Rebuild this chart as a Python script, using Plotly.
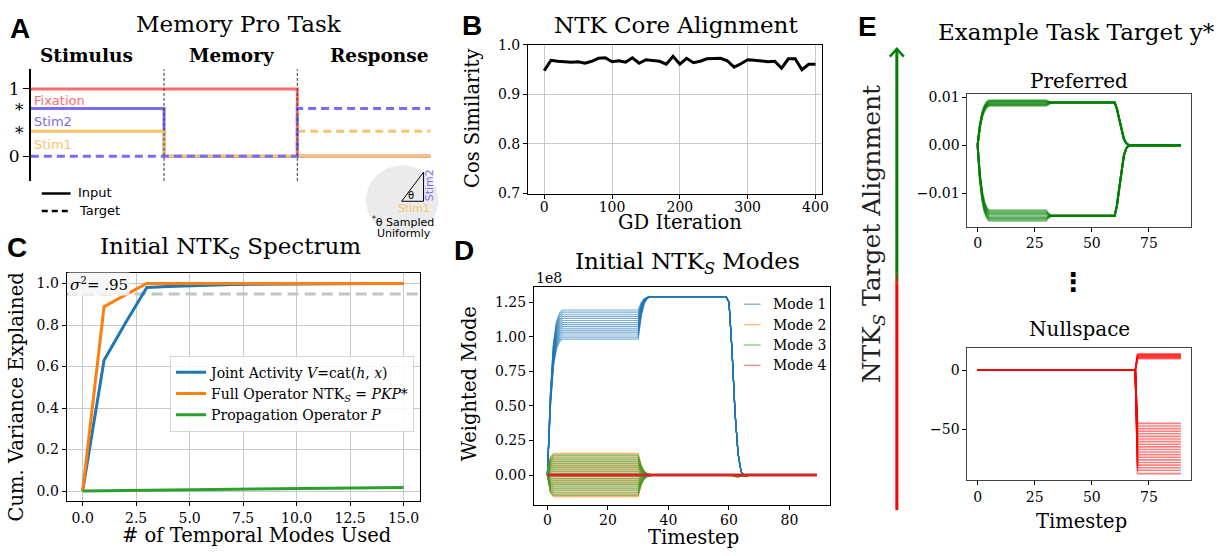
import plotly.graph_objects as go

W, H = 1222, 556
SERIF = "DejaVu Serif"
SANS = "DejaVu Sans"
BOLDSANS = "Liberation Sans"

# ---------------- data ----------------
# Panel A (task schematic), time in phases 0..3
FIX_T = [0, 2, 2, 3]
FIX_V = [1, 1, 0, 0]
STIM_T = [0, 1, 1, 3]
STIM2_V = [0.71, 0.71, 0, 0]
STIM1_V = [0.37, 0.37, 0, 0]
TGT2_T = [0, 2, 2, 3]
TGT2_V = [0, 0, 0.71, 0.71]
TGT1_T = [2, 3]
TGT1_V = [0.37, 0.37]
LEVEL_TICKS = [0, 1]
LEVEL_LABELS = ["0", "1"]

# Panel B
GD_ITER = list(range(0, 401, 10))
COS_SIM = [0.948, 0.969, 0.967, 0.966, 0.965, 0.966, 0.963, 0.967, 0.973, 0.974,
           0.966, 0.968, 0.965, 0.974, 0.963, 0.970, 0.969, 0.967, 0.961, 0.977,
           0.961, 0.973, 0.964, 0.967, 0.972, 0.972, 0.973, 0.968, 0.955, 0.962,
           0.970, 0.969, 0.967, 0.966, 0.967, 0.953, 0.972, 0.972, 0.950, 0.961, 0.961]

# Panel C
N_MODES = list(range(16))
JOINT = [0.0, 0.63, 0.81, 0.981, 0.986, 0.99, 0.993, 0.995, 0.997, 0.998, 0.998, 0.999, 0.999, 1.0, 1.0, 1.0]
FULL = [0.0, 0.888, 0.945, 1.0, 1.0, 1.0, 1.0, 1.0, 1.0, 1.0, 1.0, 1.0, 1.0, 1.0, 1.0, 1.0]
PROP = [0.0, 0.001, 0.002, 0.003, 0.004, 0.005, 0.006, 0.007, 0.008, 0.009, 0.010, 0.011, 0.012, 0.014, 0.015, 0.017]
SIGMA_THRESH = 0.95

# Panel D (values in units of 1e8)
M1_T = [0, 1, 2, 3, 4, 5, 30, 31, 32, 33, 34, 59, 60, 61, 62, 63, 64, 65, 89]
M1_RISE = [0, 0.5, 0.8, 0.93, 0.98, 1.0]
M1_TRANS = [0, 0.55, 0.85, 0.96, 1.0]
M1_DROP = [1.0, 0.97, 0.7, 0.35, 0.12, 0.02, 0.0]
M1_PEAK = 1.29
M1_LEVELS = [0.983, 0.998, 1.013, 1.028, 1.043, 1.058, 1.073, 1.088, 1.103, 1.118,
             1.133, 1.148, 1.163, 1.178, 1.194]
M23_T = [0, 1, 2, 30, 31, 32, 33, 34, 35, 61, 62, 63, 64, 65, 66, 67, 89]
M23_PROFILE = [0, 0.85, 1.0, 1.0, 0.45, 0.18, 0.06, 0.02, 0.0]
M23_BLIP = [0, -0.010, -0.012, -0.010, -0.006, -0.003, 0, 0]
M2_LEVELS = [0.157, 0.141, 0.125, 0.109, 0.093, 0.077, 0.061, 0.045, 0.029, 0.013,
             -0.013, -0.029, -0.045, -0.061, -0.077, -0.093, -0.109, -0.125, -0.141, -0.155]
M3_LEVELS = [0.146, 0.131, 0.115, 0.100, 0.085, 0.069, 0.054, 0.038, 0.023, 0.008,
             -0.008, -0.023, -0.038, -0.054, -0.069, -0.085, -0.100, -0.115, -0.131, -0.146]
M4_T = [0, 89]
M4_V = [0, 0]
MODE_NAMES = ["Mode 1", "Mode 2", "Mode 3", "Mode 4"]

# Panel E top (Preferred)
P_T = [0, 1, 2, 3, 4, 5, 30, 31, 32, 33, 60, 61, 62, 63, 64, 65, 66, 67, 89]
P_RISE = [0, 0.45, 0.72, 0.88, 0.96, 1.0]
P_CONV = [0, 0.6, 0.9, 1.0]
P_DROP = [1.0, 0.85, 0.6, 0.35, 0.15, 0.05, 0.01, 0.0]
P_UP_LEVELS = [0.00822, 0.00838, 0.00855, 0.00872, 0.00889, 0.00905, 0.00922, 0.00939]
P_UP_CONV = 0.0089
P_DN_LEVELS = [-0.0136, -0.0139, -0.0142, -0.0145, -0.0149, -0.0152, -0.0155, -0.0158]
P_DN_CONV = -0.01475

# Panel E bottom (Nullspace)
N_T = [0, 69, 70, 89]
N_UP_LEVELS = [9.8, 10.4, 11.0, 11.6, 12.2, 12.8, 13.4, 13.9]
N_DN_LEVELS = [-44.8, -47.0, -49.2, -51.4, -53.6, -55.8, -58.0, -60.2, -62.4, -64.6,
               -66.8, -69.0, -71.2, -73.4, -75.6, -77.8, -80.0, -82.2, -84.4, -87.2]

FIX_C = "#FF6B6B"
STIM2_C = "#7B6CF6"
STIM1_C = "#F8C46A"
B1 = "rgba(31,119,180,0.6)"
O2 = "rgba(255,127,14,0.6)"
G3 = "rgba(44,160,44,0.6)"
MODE_COLORS = ["rgba(31,119,180,0.5)", "rgba(255,127,14,0.5)", "rgba(44,160,44,0.5)", "rgba(214,39,40,0.5)"]

# ---------------- helpers ----------------
def fx(p):
    return p / W

def fy(p):
    return 1 - p / H

def dx(a, b):
    return [a / W, b / W]

def dy(top, bottom):
    return [1 - bottom / H, 1 - top / H]

fig = go.Figure()

def line(x, y, ax, color, width=2, dash=None, name=None, show=False, legend=None):
    kw = dict(x=x, y=y, mode="lines", line=dict(color=color, width=width),
              xaxis="x" + ("" if ax == 1 else str(ax)), yaxis="y" + ("" if ax == 1 else str(ax)),
              hoverinfo="skip", showlegend=show)
    if dash:
        kw["line"]["dash"] = dash
    if name:
        kw["name"] = name
    if legend:
        kw["legend"] = legend
    fig.add_trace(go.Scatter(**kw))

# ---------------- Panel A ----------------
line(FIX_T, FIX_V, 1, FIX_C, 3)
line(STIM_T, STIM2_V, 1, STIM2_C, 3)
line(STIM_T, STIM1_V, 1, STIM1_C, 3)
line(TGT1_T, TGT1_V, 1, STIM1_C, 3, dash="8px,5px")
line(TGT2_T, TGT2_V, 1, STIM2_C, 3, dash="8px,5px")

# ---------------- Panel B ----------------
line(GD_ITER, COS_SIM, 2, "black", 3)

# ---------------- Panel C ----------------
line([-0.75, 15.75], [SIGMA_THRESH, SIGMA_THRESH], 3, "#c4c4c4", 3, dash="11px,6px")
line(N_MODES, JOINT, 3, "#1f77b4", 3, name="Joint Activity <i>V</i>=cat(<i>h</i>, <i>x</i>)", show=True, legend="legend")
line(N_MODES, FULL, 3, "#ff7f0e", 3, name="Full Operator NTK<sub><i>S</i></sub> = <i>PKP</i>*", show=True, legend="legend")
line(N_MODES, PROP, 3, "#2ca02c", 3, name="Propagation Operator <i>P</i>", show=True, legend="legend")

# ---------------- Panel D ----------------
for L in M1_LEVELS:
    vals = [L * p for p in M1_RISE] + [L + (M1_PEAK - L) * q for q in M1_TRANS] + [M1_PEAK * r for r in M1_DROP] + [0]
    line(M1_T, vals, 4, B1, 1.2)
for L in M2_LEVELS:
    vals = [L * p for p in M23_PROFILE] + M23_BLIP
    line(M23_T, vals, 4, O2, 1.2)
for L in M3_LEVELS:
    vals = [L * p for p in M23_PROFILE] + [b * 0.7 for b in M23_BLIP]
    line(M23_T, vals, 4, G3, 1.2)
line(M4_T, M4_V, 4, "#d62728", 3)

# ---------------- Panel E ----------------
GE = "rgba(0,128,0,0.5)"
for L in P_UP_LEVELS:
    vals = [L * p for p in P_RISE] + [L + (P_UP_CONV - L) * q for q in P_CONV] + [P_UP_CONV * r for r in P_DROP] + [0]
    line(P_T, vals, 5, GE, 2)
for L in P_DN_LEVELS:
    vals = [L * p for p in P_RISE] + [L + (P_DN_CONV - L) * q for q in P_CONV] + [P_DN_CONV * r for r in P_DROP] + [0]
    line(P_T, vals, 5, GE, 2)

RE = "rgba(255,0,0,0.5)"
for L in N_UP_LEVELS + N_DN_LEVELS:
    line(N_T, [0, 0, L, L], 6, RE, 1.6)

# ---------------- axes ----------------
def axis(domain, rng, anchor, grid=False, linecolor="black", **kw):
    d = dict(domain=domain, range=rng, anchor=anchor, showline=True, mirror=True,
             linecolor=linecolor, linewidth=1, ticks="outside", ticklen=4, tickwidth=1,
             tickcolor="black", showgrid=grid, gridcolor="#c8c8c8", gridwidth=1,
             zeroline=False, tickfont=dict(family=SERIF, size=14, color="black"))
    d.update(kw)
    return d

layout = dict(
    width=W, height=H, margin=dict(l=0, r=0, t=0, b=0),
    paper_bgcolor="white", plot_bgcolor="white",
    showlegend=True,
    xaxis=dict(domain=dx(31, 433), range=[0, 3], visible=False, anchor="y"),
    yaxis=dict(domain=dy(63, 178), range=[-0.368, 1.294], anchor="x", showline=True, linecolor="black",
               linewidth=1.5, ticks="outside", ticklen=6, tickcolor="black", showgrid=False, zeroline=False,
               tickvals=LEVEL_TICKS, ticktext=LEVEL_LABELS,
               tickfont=dict(family=SERIF, size=17, color="black")),
    xaxis2=axis(dx(531, 827), [-24, 410], "y2", grid=True, tickvals=[0, 100, 200, 300, 400], ticklabelstandoff=-3),
    yaxis2=axis(dy(38, 191), [0.7, 1.0], "x2", grid=True, tickvals=[0.7, 0.8, 0.9, 1.0], tickformat=".1f"),
    xaxis3=axis(dx(67, 422), [-0.75, 15.75], "y3", grid=True, tick0=0, dtick=2.5, tickformat=".1f"),
    yaxis3=axis(dy(273, 508), [-0.05, 1.05], "x3", grid=True, tick0=0, dtick=0.2, tickformat=".1f"),
    xaxis4=axis(dx(537, 835), [-4.45, 93.45], "y4", tickvals=[0, 20, 40, 60, 80], ticklabelstandoff=-2),
    yaxis4=axis(dy(287, 512), [-0.218, 1.362], "x4", tickvals=[0, 0.25, 0.5, 0.75, 1.0, 1.25], tickformat=".2f"),
    xaxis5=axis(dx(973, 1198), [-4.45, 93.45], "y5", linecolor="#444", tickvals=[0, 25, 50, 75]),
    yaxis5=axis(dy(89, 225), [-0.0170, 0.0106], "x5", linecolor="#444", tickvals=[-0.01, 0, 0.01], tickformat=".2f"),
    xaxis6=axis(dx(973, 1198), [-4.45, 93.45], "y6", linecolor="#444", tickvals=[0, 25, 50, 75]),
    yaxis6=axis(dy(350, 486), [-92.6, 18.9], "x6", linecolor="#444", tickvals=[-50, 0]),
    legend=dict(x=fx(171), y=fy(358), xanchor="left", yanchor="top",
                bgcolor="rgba(255,255,255,0.85)", bordercolor="#d6d6d6", borderwidth=1,
                font=dict(family=SERIF, size=14, color="black"), itemwidth=30, tracegroupgap=0),
)
fig.update_layout(**layout)

# ---------------- annotations ----------------
ann = []

def text(px, py, s, size, family=SERIF, color="black", xanchor="center", angle=0, bg=None):
    d = dict(x=fx(px), y=fy(py), xref="paper", yref="paper", text=s, showarrow=False,
             xanchor=xanchor, yanchor="middle", textangle=angle,
             font=dict(family=family, size=size, color=color))
    if bg:
        d["bgcolor"] = bg
    ann.append(d)

# panel letters
text(20, 21, "<b>A</b>", 28, BOLDSANS)
text(475, 18, "<b>B</b>", 28, BOLDSANS)
text(17, 247, "<b>C</b>", 28, BOLDSANS)
text(467, 250, "<b>D</b>", 28, BOLDSANS)
text(872, 19, "<b>E</b>", 28, BOLDSANS)

# Panel A
text(240, 16, "Memory Pro Task", 23)
text(87, 49, "<b>Stimulus</b>", 18.5)
text(233, 49, "<b>Memory</b>", 18.5)
text(381, 49, "<b>Response</b>", 18.5)
text(20, 105, "*", 17)
text(20, 129, "*", 17)
text(32, 95, "Fixation", 13, SANS, FIX_C, "left")
text(32, 117, "Stim2", 13, SANS, STIM2_C, "left")
text(32, 141, "Stim1", 13, SANS, STIM1_C, "left")
text(76, 190, "Input", 13, SANS, "black", "left")
text(77, 208, "Target", 13, SANS, "black", "left")
text(413, 193, "θ", 10, SANS)
text(416, 206, "Stim1", 11, SANS, STIM1_C)
text(432, 183, "Stim2", 11, SANS, STIM2_C, angle=-90)
text(405, 220, "<sup>*</sup>θ Sampled", 11, SANS)
text(406, 232, "Uniformly", 11, SANS)

# Panel B
text(680, 17, "NTK Core Alignment", 23)
text(475, 114, "Cos Similarity", 19.5, angle=-90)
text(684, 221, "GD Iteration", 19.5)

# Panel C
text(232, 247, "Initial NTK<sub><i>S</i></sub> Spectrum", 23)
text(17, 400, "Cum. Variance Explained", 19.5, angle=-90)
text(258, 543, "# of Temporal Modes Used", 19.5)
text(100, 284, "<i>σ</i><sup>2</sup>= .95", 15, bg="rgba(245,245,245,0.9)")

# Panel D
text(691, 263, "Initial NTK<sub><i>S</i></sub> Modes", 23)
text(537, 278, "1e8", 14, xanchor="left")
text(473, 387, "Weighted Mode", 19.5, angle=-90)
text(697, 545, "Timestep", 19.5)
for k, nm in enumerate(MODE_NAMES):
    text(775, 305 + 21 * k, nm, 14, xanchor="left")

# Panel E
text(1083, 25, "Example Task Target y*", 23)
text(878, 233, "NTK<sub><i>S</i></sub> Target Alignment", 25, color="#222", angle=-90)
text(1085, 75, "Preferred", 20)
text(1086, 331, "Nullspace", 20)
text(1088, 529, "Timestep", 19.5)
text(1079, 282, "<b>⋮</b>", 26, SANS)

fig.update_layout(annotations=ann)

# ---------------- shapes ----------------
shapes = []
for xv in [1, 2]:
    shapes.append(dict(type="line", xref="x", yref="y domain", x0=xv, x1=xv, y0=0, y1=1,
                       line=dict(color="#333", width=1, dash="3px,2px")))
shapes.append(dict(type="line", xref="paper", yref="paper", x0=fx(42), x1=fx(71), y0=fy(191), y1=fy(191),
                   line=dict(color="black", width=2.5)))
shapes.append(dict(type="line", xref="paper", yref="paper", x0=fx(42), x1=fx(71), y0=fy(209), y1=fy(209),
                   line=dict(color="black", width=2.5, dash="6px,4px")))
shapes.append(dict(type="circle", xref="paper", yref="paper", x0=fx(368), x1=fx(441), y0=fy(234), y1=fy(162),
                   fillcolor="#ebebeb", line=dict(width=0), layer="below"))
tri = "M %f,%f L %f,%f L %f,%f Z" % (fx(404), fy(199), fx(426), fy(199), fx(426), fy(169))
shapes.append(dict(type="path", xref="paper", yref="paper", path=tri, line=dict(color="black", width=1)))

# D legend samples
for k, c in enumerate(MODE_COLORS):
    shapes.append(dict(type="line", xref="paper", yref="paper", x0=fx(748), x1=fx(765),
                       y0=fy(305 + 21 * k), y1=fy(305 + 21 * k), line=dict(color=c, width=1.5)))

# E arrow with green->red gradient
shapes.append(dict(type="line", xref="paper", yref="paper", x0=fx(902), x1=fx(902), y0=fy(42), y1=fy(272),
                   line=dict(color="#008000", width=3)))
grad = ["#1a7300", "#336600", "#4d5a00", "#804000", "#b32d00", "#e61a00"]
for k, c in enumerate(grad):
    shapes.append(dict(type="line", xref="paper", yref="paper", x0=fx(902), x1=fx(902),
                       y0=fy(272 + 2 * k), y1=fy(274 + 2 * k), line=dict(color=c, width=3)))
shapes.append(dict(type="line", xref="paper", yref="paper", x0=fx(902), x1=fx(902), y0=fy(284), y1=fy(517),
                   line=dict(color="#ff0000", width=3)))
head = "M %f,%f L %f,%f L %f,%f" % (fx(895), fy(50), fx(902), fy(42), fx(909), fy(50))
shapes.append(dict(type="path", xref="paper", yref="paper", path=head, line=dict(color="#008000", width=2.5)))

fig.update_layout(shapes=shapes)

fig.write_html("out.html")
